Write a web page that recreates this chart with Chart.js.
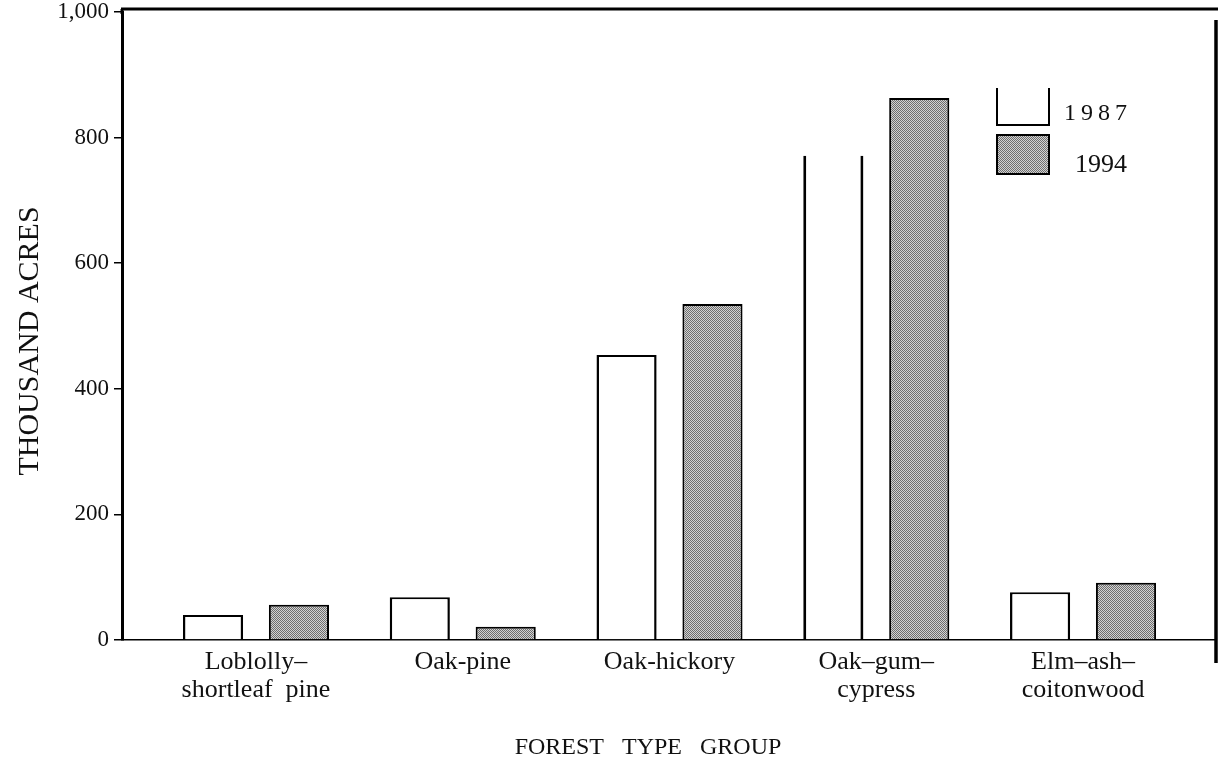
<!DOCTYPE html>
<html>
<head>
<meta charset="utf-8">
<script src="https://cdn.jsdelivr.net/npm/chart.js@4.4.1/dist/chart.umd.min.js"></script>
<style>
  html, body { margin: 0; padding: 0; background: #fff; }
  #wrap { width: 1221px; height: 767px; position: relative; }
</style>
</head>
<body>
<div id="wrap"><canvas id="myChart"></canvas></div>
<script>
const categories = [['Loblolly–', 'shortleaf  pine'], 'Oak-pine', 'Oak-hickory', ['Oak–gum–', 'cypress'], ['Elm–ash–', 'coitonwood']];
const seriesLabels = ['1987', '1994'];
const acres1987 = [40, 68, 454, 771, 76];
const acres1994 = [56, 21, 535, 863, 91];
const yTickValues = [0, 200, 400, 600, 800, 1000];
const yTickLabels = ['0', '200', '400', '600', '800', '1,000'];
const yTitle = 'THOUSAND ACRES    ';
const xTitle = 'FOREST   TYPE   GROUP       ';

const SERIF = "'Liberation Serif', 'Times New Roman', serif";
const myChart = document.getElementById('myChart');

// halftone grey like the scanned print
function makeDots() {
    const c = document.createElement('canvas');
    c.width = 4;
    c.height = 4;
    const g = c.getContext('2d');
    g.fillStyle = '#d2d2d2';
    g.fillRect(0, 0, 4, 4);
    g.fillStyle = '#6e6e6e';
    for (let y = 0; y < 4; y++) {
        for (let x = 0; x < 4; x++) {
            if ((x + y) % 2 === 0) g.fillRect(x, y, 1, 1);
        }
    }
    return g.createPattern(c, 'repeat');
}
const dots = makeDots();

function toPoints(values) {
    return values.map((v, i) => ({ x: i, y: v }));
}

const framePlugin = {
    id: 'frame',
    afterDraw(chart) {
        const { ctx, chartArea: a } = chart;
        ctx.save();
        ctx.strokeStyle = '#000';
        ctx.lineWidth = 3;
        ctx.beginPath();
        ctx.moveTo(a.left - 1, a.top - 3);
        ctx.lineTo(a.right + 2, a.top - 3);
        ctx.stroke();
        ctx.beginPath();
        ctx.moveTo(a.left, a.top - 3);
        ctx.lineTo(a.left, a.top + 2);
        ctx.stroke();
        ctx.lineWidth = 3.5;
        ctx.beginPath();
        ctx.moveTo(a.right, a.top + 8);
        ctx.lineTo(a.right, a.bottom + 23);
        ctx.stroke();
        ctx.restore();
    }
};

const legendPlugin = {
    id: 'boxLegend',
    afterDraw(chart) {
        const ctx = chart.ctx;
        const sets = chart.data.datasets;
        const boxX = 997, boxW = 52;
        const tops = [88, 135];
        const heights = [37, 39];
        ctx.save();
        sets.forEach((ds, i) => {
            const top = tops[i], h = heights[i];
            ctx.fillStyle = ds.backgroundColor;
            ctx.fillRect(boxX, top, boxW, h);
            ctx.strokeStyle = '#000';
            ctx.lineWidth = 2;
            ctx.beginPath();
            if (i === 0) {
                ctx.moveTo(boxX, top);
                ctx.lineTo(boxX, top + h);
                ctx.lineTo(boxX + boxW, top + h);
                ctx.lineTo(boxX + boxW, top);
            } else {
                ctx.rect(boxX, top, boxW, h);
            }
            ctx.stroke();
            ctx.fillStyle = '#111';
            ctx.textBaseline = 'middle';
            ctx.textAlign = 'left';
            if (i === 0) {
                ctx.font = '24px ' + SERIF;
                ctx.letterSpacing = '5px';
                ctx.fillText(ds.label, 1064, top + 26);
            } else {
                ctx.font = '26px ' + SERIF;
                ctx.letterSpacing = '0px';
                ctx.fillText(ds.label, 1075, top + 30);
            }
        });
        ctx.restore();
    }
};

const chartConfig = {
    type: 'bar',
    data: {
        datasets: [
            {
                label: seriesLabels[0],
                data: toPoints(acres1987),
                backgroundColor: '#ffffff',
                borderColor: '#000000',
                borderWidth: (c) => c.dataIndex === 3
                    ? { left: 3, right: 3, top: 0, bottom: 0 }
                    : { left: 2.5, right: 2.5, top: 2, bottom: 0 },
                borderSkipped: 'start',
            },
            {
                label: seriesLabels[1],
                data: toPoints(acres1994),
                backgroundColor: dots,
                borderColor: '#000000',
                borderWidth: { left: 2, right: 2, top: 2, bottom: 0 },
                borderSkipped: 'start',
            },
        ],
    },
    options: {
        responsive: true,
        maintainAspectRatio: false,
        animation: false,
        barPercentage: 0.7,
        categoryPercentage: 0.831,
        layout: { padding: { top: 12, right: 5, left: 6, bottom: 0 } },
        plugins: {
            legend: { display: false },
            tooltip: { enabled: false },
        },
        scales: {
            x: {
                type: 'linear',
                offset: false,
                min: -0.648,
                max: 4.643,
                grid: { display: false, drawTicks: false, offset: false },
                border: { display: true, color: '#000', width: 1.5 },
                ticks: {
                    stepSize: 1,
                    includeBounds: false,
                    autoSkip: false,
                    maxRotation: 0,
                    padding: 9,
                    color: '#111',
                    font: { family: SERIF, size: 26, lineHeight: 1.05 },
                    callback: (value) => Number.isInteger(value) ? categories[value] : '',
                },
                title: {
                    display: true,
                    text: xTitle,
                    color: '#111',
                    font: { family: SERIF, size: 24 },
                    padding: { top: 0, bottom: 5 },
                },
                afterFit(scale) {
                    scale.height = 127;
                    scale.paddingLeft = 0;
                    scale.paddingRight = 0;
                },
            },
            y: {
                min: 0,
                max: 1000,
                grid: {
                    display: true,
                    drawOnChartArea: false,
                    drawTicks: true,
                    tickLength: 8,
                    color: '#000',
                    lineWidth: 1.5,
                },
                border: { display: true, color: '#000', width: 3 },
                ticks: {
                    stepSize: 200,
                    padding: 5,
                    color: '#111',
                    font: { family: SERIF, size: 23 },
                    callback: (value) => yTickLabels[yTickValues.indexOf(value)],
                },
                title: {
                    display: true,
                    text: yTitle,
                    color: '#111',
                    font: { family: SERIF, size: 30 },
                    padding: { top: 6, bottom: 0 },
                },
                afterFit(scale) {
                    scale.width = 116;
                    scale.paddingTop = 0;
                    scale.paddingBottom = 0;
                },
            },
        },
    },
    plugins: [framePlugin, legendPlugin],
};

new Chart(myChart, chartConfig);
</script>
</body>
</html>
